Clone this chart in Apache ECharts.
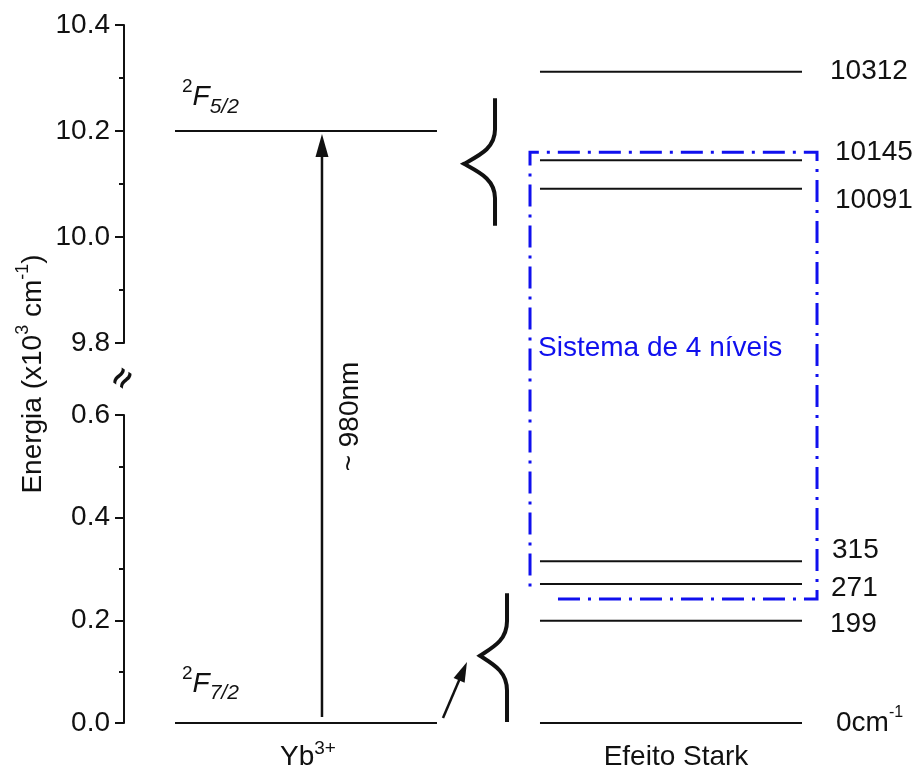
<!DOCTYPE html>
<html>
<head>
<meta charset="utf-8">
<script src="https://cdn.jsdelivr.net/npm/echarts@6/dist/echarts.min.js"></script>
<style>html,body{margin:0;padding:0;background:#fff}#chart{width:920px;height:771px}</style>
</head>
<body>
<div id="chart"></div>
<script>
// ------------------------- DATA -------------------------
const categories = ['Yb3+', 'Efeito Stark'];
const ybLevelEnergies = [0, 10.2];                 // 10^3 cm^-1
const ybLevelTerms = [['2', '7/2'], ['2', '5/2']]; // 2S+1 , J
const starkLevelsCm = [0, 199, 271, 315, 10091, 10145, 10312];   // cm^-1
const starkLabels = ['0cm', '199', '271', '315', '10091', '10145', '10312'];
const lowerTicks = [0.0, 0.2, 0.4, 0.6];
const upperTicks = [9.8, 10.0, 10.2, 10.4];
const pumpTransition = [0, 10.2];   // 10^3 cm^-1
const pumpLabel = '~ 980nm';
const boxLabel = 'Sistema de 4 níveis';
const axisTitle = ['Energia (x10', '3', ' cm', '-1', ')'];

// ------------------------- LAYOUT -------------------------
const FONT = '"Liberation Sans", Arial, Helvetica, sans-serif';
const INK = '#111111';
const BLUE = '#1010ee';
const G_LEFT = 124, G_RIGHT = 60;
const UP_TOP = 25, UP_BOTTOM = 343, LOW_TOP = 415, LOW_BOTTOM = 723;
const YB_X = [0.1386, 0.8505];       // band fractions on hidden x axis [0,2]
const STARK_X = [1.1304, 1.8424];
const PUMP_X = 0.538;
const TERM_DY = [-39, -33.5];
const LABEL_DX = [34, 28, 29, 30, 33, 33, 28];
const LABEL_DY = [0, 3, 4, -11, 12, -8, 0];
// annotations
const smallArrow = [0.8668, 0.0097, 0.932, 0.119];           // tail x, tail E, tip x, tip E
const braces = [[1.0082, 10.021, 0.9239, 10.138, 10.262],     // x right, bottom E, tip x, tip E, top E
                [1.0408, 0.002, 0.9674, 0.131, 0.253]];
const box = [1.1033, 1.8832, 1.1793, 0.2416, 0.265, 10.160];  // left, right, bottom start x, bottom E, left end E, top E

// broken-axis mapping (two scales joined through a gap)
const lowMin = lowerTicks[0], lowMax = lowerTicks[lowerTicks.length - 1];
const upMin = upperTicks[0], upMax = upperTicks[upperTicks.length - 1];
const sLow = (LOW_BOTTOM - LOW_TOP) / (lowMax - lowMin);
const sUp = (UP_BOTTOM - UP_TOP) / (upMax - upMin);
function cy(v) {
  if (v <= (lowMax + upMin) / 2) return v - lowMin;
  return ((LOW_BOTTOM - UP_BOTTOM) + (v - upMin) * sUp) / sLow;
}
const C_MAX = (LOW_BOTTOM - UP_TOP) / sLow;

function arrowShape(x0, y0, x1, y1, headLen, headHalf) {
  const dx = x1 - x0, dy = y1 - y0, L = Math.hypot(dx, dy), ux = dx / L, uy = dy / L;
  const bx = x1 - ux * headLen, by = y1 - uy * headLen, nx = -uy, ny = ux;
  return {
    line: { x1: x0, y1: y0, x2: bx + ux * 3, y2: by + uy * 3 },
    head: [[x1, y1], [bx + nx * headHalf, by + ny * headHalf], [bx - nx * headHalf, by - ny * headHalf]]
  };
}

function dispAxis(grid, ticks) {
  return {
    type: 'value', gridIndex: grid, min: ticks[0], max: ticks[ticks.length - 1],
    interval: +(ticks[1] - ticks[0]).toFixed(6),
    axisLine: { show: true, onZero: false, lineStyle: { color: INK, width: 2 } },
    axisTick: { show: true, length: 9, lineStyle: { color: INK, width: 2 } },
    minorTick: { show: true, splitNumber: 2, length: 5, lineStyle: { color: INK, width: 2 } },
    splitLine: { show: false }, minorSplitLine: { show: false },
    axisLabel: { fontSize: 28, fontFamily: FONT, color: INK, margin: 14, formatter: v => v.toFixed(1) }
  };
}

const supRich = {
  sup: { fontSize: 19, lineHeight: 16, verticalAlign: 'top', fontFamily: FONT, fill: INK },
  F: { fontSize: 28, lineHeight: 40, fontStyle: 'italic', fontFamily: FONT, fill: INK },
  sub: { fontSize: 21, lineHeight: 16, verticalAlign: 'bottom', fontStyle: 'italic', fontFamily: FONT, fill: INK }
};
const numRich = {
  n: { fontSize: 28, lineHeight: 36, fontFamily: FONT, fill: INK },
  s: { fontSize: 16, lineHeight: 14, verticalAlign: 'top', fontFamily: FONT, fill: INK }
};

const chart = echarts.init(document.getElementById('chart'), null, { renderer: 'canvas' });

const common = { type: 'custom', xAxisIndex: 2, yAxisIndex: 2, silent: true, animation: false };

const option = {
  animation: false,
  backgroundColor: '#ffffff',
  grid: [
    { left: G_LEFT, right: G_RIGHT, top: UP_TOP, height: UP_BOTTOM - UP_TOP, containLabel: false, outerBoundsMode: 'none' },
    { left: G_LEFT, right: G_RIGHT, top: LOW_TOP, height: LOW_BOTTOM - LOW_TOP, containLabel: false, outerBoundsMode: 'none' },
    { left: G_LEFT, right: G_RIGHT, top: UP_TOP, height: LOW_BOTTOM - UP_TOP, containLabel: false, outerBoundsMode: 'none' }
  ],
  xAxis: [
    { type: 'value', gridIndex: 0, show: false, min: 0, max: 2 },
    { type: 'value', gridIndex: 1, show: false, min: 0, max: 2 },
    { type: 'value', gridIndex: 2, show: false, min: 0, max: 2 },
    {
      type: 'category', gridIndex: 2, data: categories, position: 'bottom',
      axisLine: { show: false }, axisTick: { show: false }, splitLine: { show: false },
      axisLabel: {
        margin: 16, interval: 0,
        formatter: v => v === 'Yb3+' ? '{m|Yb}{s|3+}' : '{m|' + v + '}',
        rich: {
          m: { fontSize: 28, lineHeight: 36, fontFamily: FONT, color: INK },
          s: { fontSize: 19, lineHeight: 15, verticalAlign: 'top', fontFamily: FONT, color: INK }
        }
      }
    }
  ],
  yAxis: [
    dispAxis(0, upperTicks),
    dispAxis(1, lowerTicks),
    {
      type: 'value', gridIndex: 2, min: 0, max: C_MAX,
      axisLine: { show: false }, axisTick: { show: false }, axisLabel: { show: false }, splitLine: { show: false },
      name: '{a|' + axisTitle[0] + '}{s|' + axisTitle[1] + '}{a|' + axisTitle[2] + '}{s|' + axisTitle[3] + '}{a|' + axisTitle[4] + '}',
      nameLocation: 'middle', nameRotate: 90, nameGap: 72,
      nameTextStyle: {
        rich: {
          a: { fontSize: 28, lineHeight: 38, fontFamily: FONT, color: INK },
          s: { fontSize: 18, lineHeight: 16, verticalAlign: 'top', fontFamily: FONT, color: INK }
        }
      }
    }
  ],
  graphic: [
    { type: 'text', x: G_LEFT, y: (UP_BOTTOM + LOW_TOP) / 2, rotation: 1.0,
      style: { text: '≈', fontSize: 34, fontWeight: 'bold', fontFamily: FONT, fill: INK, align: 'center', verticalAlign: 'middle' } }
  ],
  series: [
    // dash-dot box
    Object.assign({}, common, {
      data: [box],
      renderItem: (params, api) => {
        const L = api.value(0), R = api.value(1), BS = api.value(2);
        const yb = cy(api.value(3)), yl = cy(api.value(4)), yt = cy(api.value(5));
        const pts = [api.coord([BS, yb]), api.coord([R, yb]), api.coord([R, yt]), api.coord([L, yt]), api.coord([L, yl])];
        const tl = api.coord([L, yt]);
        return { type: 'group', children: [
          { type: 'polyline', shape: { points: pts },
            style: { stroke: BLUE, lineWidth: 3, fill: null, lineDash: [22, 8, 3, 8] } },
          { type: 'text', x: tl[0] + 8, y: tl[1] + 196,
            style: { text: boxLabel, fontSize: 28, fontFamily: FONT, fill: BLUE, align: 'left', verticalAlign: 'middle' } }
        ] };
      }
    }),
    // Yb3+ levels
    Object.assign({}, common, {
      data: ybLevelEnergies.map((e, i) => [YB_X[0], cy(e), YB_X[1], i]),
      renderItem: (params, api) => {
        const p0 = api.coord([api.value(0), api.value(1)]);
        const p1 = api.coord([api.value(2), api.value(1)]);
        const i = api.value(3), t = ybLevelTerms[i];
        return { type: 'group', children: [
          { type: 'line', shape: { x1: p0[0], y1: p0[1], x2: p1[0], y2: p1[1] }, style: { stroke: INK, lineWidth: 2 } },
          { type: 'text', x: p0[0] + 7, y: p0[1] + TERM_DY[i],
            style: { text: '{sup|' + t[0] + '}{F|F}{sub|' + t[1] + '}', rich: supRich, align: 'left', verticalAlign: 'middle' } }
        ] };
      }
    }),
    // Stark levels
    Object.assign({}, common, {
      data: starkLevelsCm.map((v, i) => [STARK_X[0], cy(v / 1000), STARK_X[1], i]),
      renderItem: (params, api) => {
        const p0 = api.coord([api.value(0), api.value(1)]);
        const p1 = api.coord([api.value(2), api.value(1)]);
        const i = api.value(3);
        const txt = i === 0 ? '{n|' + starkLabels[i] + '}{s|-1}' : '{n|' + starkLabels[i] + '}';
        return { type: 'group', children: [
          { type: 'line', shape: { x1: p0[0], y1: p0[1], x2: p1[0], y2: p1[1] }, style: { stroke: INK, lineWidth: 2 } },
          { type: 'text', x: p1[0] + LABEL_DX[i], y: p1[1] + LABEL_DY[i],
            style: { text: txt, rich: numRich, align: 'left', verticalAlign: 'middle' } }
        ] };
      }
    }),
    // pump arrow
    Object.assign({}, common, {
      data: [[PUMP_X, cy(pumpTransition[0]), cy(pumpTransition[1])]],
      renderItem: (params, api) => {
        const p0 = api.coord([api.value(0), api.value(1)]);
        const p1 = api.coord([api.value(0), api.value(2)]);
        const y0 = p0[1] - 6, y1 = p1[1] + 3;
        const a = arrowShape(p0[0], y0, p1[0], y1, 23, 6.5);
        return { type: 'group', children: [
          { type: 'line', shape: a.line, style: { stroke: INK, lineWidth: 2.5 } },
          { type: 'polygon', shape: { points: a.head }, style: { fill: INK } },
          { type: 'text', x: p0[0] + 28, y: (y0 + y1) / 2 - 9, rotation: Math.PI / 2,
            style: { text: pumpLabel, fontSize: 28, fontFamily: FONT, fill: INK, align: 'center', verticalAlign: 'middle' } }
        ] };
      }
    }),
    // small arrow to lower brace
    Object.assign({}, common, {
      data: [[smallArrow[0], cy(smallArrow[1]), smallArrow[2], cy(smallArrow[3])]],
      renderItem: (params, api) => {
        const p0 = api.coord([api.value(0), api.value(1)]);
        const p1 = api.coord([api.value(2), api.value(3)]);
        const a = arrowShape(p0[0], p0[1], p1[0], p1[1], 20, 6);
        return { type: 'group', children: [
          { type: 'line', shape: a.line, style: { stroke: INK, lineWidth: 2.5 } },
          { type: 'polygon', shape: { points: a.head }, style: { fill: INK } }
        ] };
      }
    }),
    // braces
    Object.assign({}, common, {
      data: braces.map(b => [b[0], cy(b[1]), b[2], cy(b[3]), cy(b[4])]),
      renderItem: (params, api) => {
        const pb = api.coord([api.value(0), api.value(1)]);
        const pt = api.coord([api.value(0), api.value(4)]);
        const tip = api.coord([api.value(2), api.value(3)]);
        const xr = pb[0], yb = pb[1], yt = pt[1], xt = tip[0], ym = tip[1];
        const c = 0.27 * (yb - yt), dx = xr - xt;
        const d = ['M', xr, yt, 'L', xr, ym - c,
          'C', xr, ym - c * 0.45, xt + dx * 0.5, ym - c * 0.25, xt, ym,
          'C', xt + dx * 0.5, ym + c * 0.25, xr, ym + c * 0.45, xr, ym + c,
          'L', xr, yb].join(' ');
        return { type: 'path', shape: { pathData: d }, style: { stroke: INK, lineWidth: 4, fill: null, lineJoin: 'miter' } };
      }
    })
  ]
};
chart.setOption(option);
</script>
</body>
</html>
